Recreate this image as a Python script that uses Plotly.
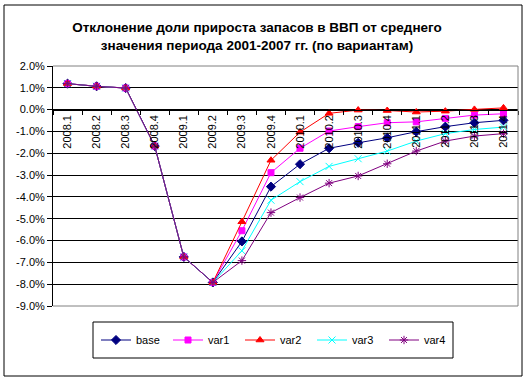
import plotly.graph_objects as go

categories = ["2008.1", "2008.2", "2008.3", "2008.4", "2009.1", "2009.2", "2009.3", "2009.4",
              "2010.1", "2010.2", "2010.3", "2010.4", "2011.1", "2011.2", "2011.3", "2011.4"]

base = [1.19, 1.07, 0.99, -1.67, -6.75, -7.92, -6.04, -3.53, -2.50, -1.77, -1.52, -1.29, -1.01, -0.78, -0.60, -0.49]
var1 = [1.19, 1.07, 0.99, -1.67, -6.75, -7.92, -5.55, -2.89, -1.77, -0.98, -0.78, -0.60, -0.56, -0.40, -0.25, -0.19]
var2 = [1.19, 1.07, 0.99, -1.67, -6.75, -7.92, -5.14, -2.32, -1.03, -0.17, -0.02, -0.04, -0.11, -0.07, 0.01, 0.08]
var3 = [1.19, 1.07, 0.99, -1.67, -6.75, -7.92, -6.47, -4.15, -3.30, -2.60, -2.25, -1.90, -1.44, -1.10, -0.91, -0.80]
var4 = [1.19, 1.07, 0.99, -1.67, -6.75, -7.92, -6.92, -4.72, -4.03, -3.37, -3.04, -2.48, -1.90, -1.44, -1.21, -1.10]

y_ticks = [2, 1, 0, -1, -2, -3, -4, -5, -6, -7, -8, -9]
y_labels = [f"{v:.1f}%" for v in y_ticks]

title = "Отклонение доли прироста запасов в ВВП от среднего<br>значения периода 2001-2007 гг. (по вариантам)"

FONT = "Arial, Liberation Sans, sans-serif"

series = [
    ("base", base, "#000080", dict(symbol="diamond", size=7)),
    ("var1", var1, "#FF00FF", dict(symbol="square", size=6)),
    ("var2", var2, "#FF0000", dict(symbol="triangle-up", size=7)),
    ("var3", var3, "#00FFFF", dict(symbol="x-thin-open", size=7)),
    ("var4", var4, "#800080", dict(symbol="asterisk-open", size=7)),
]

fig = go.Figure()
for name, vals, color, mk in series:
    marker = dict(color=color, size=mk["size"], symbol=mk["symbol"],
                  line=dict(color=color, width=1))
    fig.add_trace(go.Scatter(x=categories, y=vals, name=name, mode="lines+markers",
                             line=dict(color=color, width=1), marker=marker))

L, R, T, B = 53, 8, 66, 73
W, H = 526, 379
pw, ph = W - L - R, H - T - B

def px_x(p):
    return (p - L) / pw

def px_y(p):
    return (H - B - p) / ph

fig.update_layout(
    width=W, height=H,
    margin=dict(l=L, r=R, t=T, b=B, pad=0),
    paper_bgcolor="white", plot_bgcolor="white",
    font=dict(family=FONT, size=11, color="black"),
    title=dict(text=title, font=dict(family=FONT, size=13.5, color="black", weight="bold"),
               xref="container", x=257 / W, xanchor="center",
               yref="container", y=1 - 32 / H, yanchor="top"),
    showlegend=True,
    legend=dict(orientation="h", x=px_x(96), xanchor="left", y=px_y(340), yanchor="middle",
                borderwidth=0, bgcolor="rgba(0,0,0,0)",
                font=dict(family=FONT, size=11), entrywidth=27, entrywidthmode="pixels",
                traceorder="normal"),
    xaxis=dict(type="category", range=[-0.5, len(categories) - 0.5],
               anchor="free", position=9 / 11,
               showline=True, linecolor="black", linewidth=1,
               ticks="outside", tickson="boundaries", ticklen=4, tickcolor="black",
               tickangle=-90, showgrid=False, zeroline=False,
               tickfont=dict(family=FONT, size=11)),
    yaxis=dict(range=[-9, 2], domain=[0, 1], tickvals=y_ticks, ticktext=y_labels,
               showline=True, linecolor="black", linewidth=1,
               ticks="outside", ticklen=5, tickcolor="black",
               showgrid=True, gridcolor="black", gridwidth=1, zeroline=False,
               tickfont=dict(family=FONT, size=11)),
)

# plot area border (gray) on top, right, bottom
for (x0, y0, x1, y1) in [(0, 1, 1, 1), (1, 0, 1, 1), (0, 0, 1, 0)]:
    fig.add_shape(type="line", xref="paper", yref="paper", x0=x0, y0=y0, x1=x1, y1=y1,
                  line=dict(color="#808080", width=1), layer="above")

# legend box
fig.add_shape(type="rect", xref="paper", yref="paper",
              x0=px_x(93), x1=px_x(453), y0=px_y(358), y1=px_y(322),
              line=dict(color="black", width=1), fillcolor="rgba(0,0,0,0)", layer="above")

# outer chart border
fig.add_shape(type="rect", xref="paper", yref="paper",
              x0=px_x(4), x1=px_x(522), y0=px_y(376), y1=px_y(5),
              line=dict(color="black", width=1), fillcolor="rgba(0,0,0,0)", layer="above")

fig.write_html("out.html", config={"displayModeBar": False},
               post_script="document.body.style.margin='0';")
